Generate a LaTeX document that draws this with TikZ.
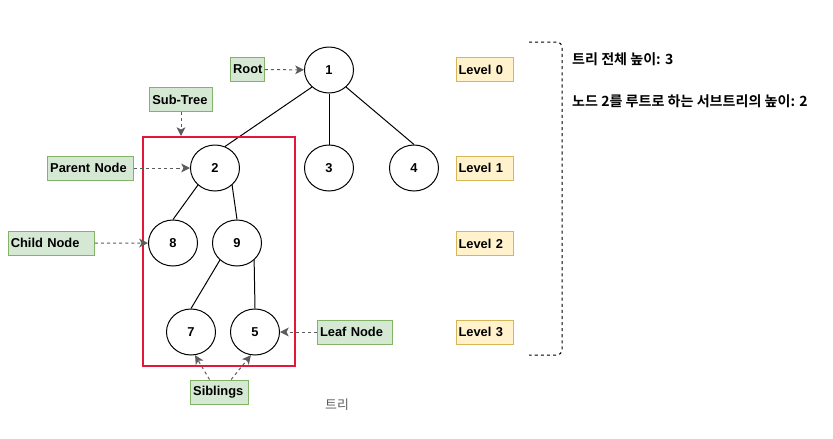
\documentclass[tikz,border=0pt]{standalone}
\usepackage{fontspec}
\setmainfont{Liberation Sans}
\newfontfamily\kor{Noto Sans CJK KR}[BoldFont={Noto Sans CJK KR Bold}]
\usepackage{tikz}
\usetikzlibrary{shapes.geometric,arrows.meta}
\definecolor{tagfill}{HTML}{D5E8D4}
\definecolor{tagline}{HTML}{82B366}
\definecolor{lvlfill}{HTML}{FFF2CC}
\definecolor{lvlline}{HTML}{D6B656}
\definecolor{boxred}{HTML}{E3173A}
\definecolor{ptr}{HTML}{5C5C5C}
\tikzset{vert/.style={ellipse,draw,line width=0.85pt,minimum width=1.47cm,minimum height=1.38cm,inner sep=0pt,font=\bfseries\fontsize{11}{13}\selectfont}}
\tikzset{tag/.style={rectangle,draw=tagline,fill=tagfill,line width=0.85pt,text width=#1,align=left,inner xsep=0.075cm,inner ysep=0pt,minimum height=0.72cm,font=\bfseries\fontsize{11}{13}\selectfont}}
\tikzset{lvl/.style={tag=1.57cm,draw=lvlline,fill=lvlfill}}
\tikzset{pointer/.style={ptr,dash pattern=on 2.6pt off 2.6pt,line width=0.85pt,->}}

\begin{document}
\begin{tikzpicture}[x=0.03cm,y=-0.03cm,>={Stealth[length=7.5pt,width=7.5pt,inset=2pt]}]
    \useasboundingbox (0,0) rectangle (833,438);

    \node[vert] (n1) at (329,70) {1};
    \node[vert] (n2) at (215,168) {2};
    \node[vert] (n3) at (329,168) {3};
    \node[vert] (n4) at (414,168) {4};
    \node[vert] (n8) at (173,243) {8};
    \node[vert] (n9) at (237,243) {9};
    \node[vert] (n7) at (191,332) {7};
    \node[vert] (n5) at (255,332) {5};

    \draw [line width=0.85pt] (n1.-135) to (n2.65);
    \draw [line width=0.85pt] (n1) to (n3);
    \draw [line width=0.85pt] (n1.-45) to (n4.north);
    \draw [line width=0.85pt] (n2.-135) to (n8.north);
    \draw [line width=0.85pt] (n2.-45) to (n9.north);
    \draw [line width=0.85pt] (n9.-135) to (n7.north);
    \draw [line width=0.85pt] (n9.-45) to (n5.north);

    % sub-tree frame
    \node[draw=boxred,line width=1.7pt,minimum width=4.56cm,minimum height=6.87cm,inner sep=0pt] (sub) at (219,251.5) {};

    \node[tag=0.86cm] (root) at (247.5,69.5) {Root};
    \node[tag=1.72cm] (subtree) at (181,99.5) {Sub-Tree};
    \node[tag=2.42cm] (parent) at (90.5,168) {Parent Node};
    \node[tag=2.43cm] (child) at (51.3,243.3) {Child Node};
    \node[tag=2.10cm] (leaf) at (355,332) {Leaf Node};
    \node[tag=1.58cm] (sibs) at (219.5,392) {Siblings};

    \draw [pointer] (root) to (n1);
    \draw [pointer] (subtree) to (subtree |- sub.north);
    \draw [pointer] (parent) to (n2);
    \draw [pointer] (child) to (n8);
    \draw [pointer] (leaf) to (n5);
    \draw [pointer] ([xshift=-0.3cm]sibs.north) to (n7.-80);
    \draw [pointer] ([xshift=0.35cm]sibs.north) to (n5.-100);

    \node[lvl] (lv0) at (484.7,69.7) {Level 0};
    \node[lvl] (lv1) at (484.7,168) {Level 1};
    \node[lvl] (lv2) at (484.7,243.7) {Level 2};
    \node[lvl] (lv3) at (484.7,332) {Level 3};

    % height bracket
    \draw [dash pattern=on 2.6pt off 2.6pt,line width=0.85pt,rounded corners=0.15cm] (529,42) -| (562,355) -- (529,355);

    \node[anchor=west,inner sep=0pt,font=\kor\bfseries\fontsize{12}{14}\selectfont] (h1) at (572,59) {트리 전체 높이: 3};
    \node[anchor=west,inner sep=0pt,font=\kor\bfseries\fontsize{12}{14}\selectfont] (h2) at (572,101) {노드 2를 루트로 하는 서브트리의 높이: 2};
    \node[inner sep=0pt,text=ptr,font=\kor\fontsize{11}{13}\selectfont] (cap) at (337,405) {트리};
\end{tikzpicture}
\end{document}
